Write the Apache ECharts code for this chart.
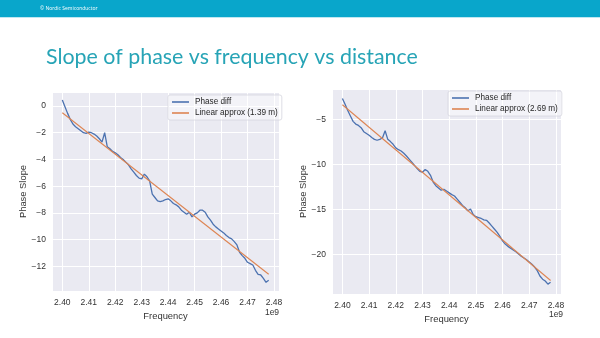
<!DOCTYPE html>
<html>
<head>
<meta charset="utf-8">
<script src="https://cdn.jsdelivr.net/npm/echarts@6/dist/echarts.min.js"></script>
<style>
  html, body { margin: 0; padding: 0; background: #ffffff; }
  #chart { width: 600px; height: 338px; }
</style>
</head>
<body>
<div id="chart"></div>
<script>
// Sample frequencies in MHz (axis shows them in units of 1e9 Hz)
const freqMHz = [
  2400, 2401, 2402, 2403, 2404, 2405, 2406, 2407, 2408, 2409,
  2410, 2411, 2412, 2413, 2414, 2415, 2416, 2417, 2418, 2419,
  2420, 2421, 2422, 2423, 2424, 2425, 2426, 2427, 2428, 2429,
  2430, 2431, 2432, 2433, 2434, 2435, 2436, 2437, 2438, 2439,
  2440, 2441, 2442, 2443, 2444, 2445, 2446, 2447, 2448, 2449,
  2450, 2451, 2452, 2453, 2454, 2455, 2456, 2457, 2458, 2459,
  2460, 2461, 2462, 2463, 2464, 2465, 2466, 2467, 2468, 2469,
  2470, 2471, 2472, 2473, 2474, 2475, 2476, 2477, 2478
];

// Measured phase slope, 1.39 m
const phaseDiffNear = [
  0.45, -0.05, -0.55, -1.0, -1.35, -1.55, -1.7, -1.85, -2.0, -2.05,
  -1.95, -2.0, -2.1, -2.25, -2.45, -2.7, -2.0, -3.05, -3.2, -3.4,
  -3.5, -3.65, -3.85, -4.0, -4.2, -4.4, -4.7, -4.95, -5.2, -5.4,
  -5.45, -5.1, -5.3, -5.6, -6.6, -6.85, -7.1, -7.15, -7.1, -7.0,
  -6.95, -7.1, -7.3, -7.4, -7.55, -7.8, -7.95, -8.1, -7.95, -8.3,
  -8.1, -8.0, -7.8, -7.8, -7.95, -8.3, -8.55, -8.85, -9.05, -9.2,
  -9.35, -9.5, -9.7, -9.85, -9.95, -10.15, -10.4, -10.95, -11.2, -11.4,
  -11.7, -11.8, -11.9, -12.3, -12.6, -12.65, -12.9, -13.2, -13.05
];

// Measured phase slope, 2.69 m
const phaseDiffFar = [
  -2.65, -3.3, -4.0, -4.6, -5.2, -5.5, -5.65, -5.9, -6.35, -6.55,
  -6.75, -7.0, -7.2, -7.3, -7.2, -7.05, -6.25, -7.2, -7.45, -7.75,
  -8.15, -8.35, -8.5, -8.75, -9.05, -9.4, -9.75, -10.1, -10.45, -10.75,
  -10.85, -10.55, -10.75, -11.2, -11.95, -12.35, -12.6, -12.85, -12.75, -12.95,
  -13.15, -13.35, -13.5, -13.85, -14.2, -14.55, -14.8, -15.15, -14.95, -15.55,
  -15.8, -15.9, -16.0, -16.15, -16.2, -16.5, -16.85, -17.2, -17.55, -18.0,
  -18.5, -18.85, -19.1, -19.3, -19.5, -19.7, -19.95, -20.2, -20.4, -20.6,
  -20.85, -21.1, -21.4, -21.8, -22.4, -22.75, -22.95, -23.3, -23.1
];

// Fitted straight lines (end points)
const linearFreqMHz = [2400, 2478];
const linearNear = [-0.5, -12.6];
const linearFar = [-3.35, -22.9];

const nameNear = 'Linear approx (1.39 m)';
const nameFar = 'Linear approx (2.69 m)';

const toPairs = (xs, ys) => xs.map((x, i) => [x / 1000, ys[i]]);

const FONT = 'Liberation Sans, Arial, sans-serif';
const TICK_COLOR = '#333333';
const BLUE = '#4c72b0';
const ORANGE = '#dd8452';

const minusFmt = v => {
  const r = Math.round(v * 100) / 100;
  return (r < 0 ? '\u2212' : '') + Math.abs(r);
};

function xAxisFor(gridIndex) {
  return {
    type: 'value', gridIndex,
    min: 2.3961, max: 2.4819, splitNumber: 8,
    name: 'Frequency', nameLocation: 'middle', nameGap: 17,
    nameTextStyle: { color: TICK_COLOR, fontSize: 9.4, fontFamily: FONT },
    axisLine: { show: false }, axisTick: { show: false },
    axisLabel: {
      color: TICK_COLOR, fontSize: 8.5, fontFamily: FONT, margin: 7,
      showMinLabel: false, showMaxLabel: false,
      formatter: v => v.toFixed(2)
    },
    splitLine: { show: true, lineStyle: { color: '#ffffff', width: 1 } }
  };
}

function yAxisFor(gridIndex, min, max, splitNumber, gap) {
  return {
    type: 'value', gridIndex, min, max, splitNumber,
    name: 'Phase Slope', nameLocation: 'middle', nameGap: gap, nameRotate: 90,
    nameTextStyle: { color: TICK_COLOR, fontSize: 9.4, fontFamily: FONT },
    axisLine: { show: false }, axisTick: { show: false },
    axisLabel: {
      color: TICK_COLOR, fontSize: 8.5, fontFamily: FONT, margin: 6,
      showMinLabel: false, showMaxLabel: false,
      formatter: minusFmt
    },
    splitLine: { show: true, lineStyle: { color: '#ffffff', width: 1 } }
  };
}

function legendFor(names, left, top) {
  return {
    data: names, left, top, orient: 'vertical',
    itemGap: 3, itemWidth: 17, itemHeight: 1.6, icon: 'rect',
    padding: [3, 4, 3, 4],
    backgroundColor: 'rgba(255,255,255,0.45)',
    borderColor: '#d6d6de', borderWidth: 0.8, borderRadius: 2,
    textStyle: { color: '#262626', fontSize: 8.2, fontFamily: FONT, padding: [0, 0, 0, 1] },
    selectedMode: false
  };
}

function lineSeries(name, idx, data, color, width) {
  return {
    type: 'line', name, xAxisIndex: idx, yAxisIndex: idx,
    data, showSymbol: false, symbol: 'none', color,
    lineStyle: { color, width }, animation: false
  };
}

const chart = echarts.init(document.getElementById('chart'), null, { renderer: 'canvas' });

chart.setOption({
  animation: false,
  backgroundColor: '#ffffff',
  grid: [
    { left: 52, top: 92, width: 227, height: 199, show: true, backgroundColor: '#eaeaf2', borderWidth: 0 },
    { left: 332, top: 89, width: 229, height: 205, show: true, backgroundColor: '#eaeaf2', borderWidth: 0 }
  ],
  xAxis: [xAxisFor(0), xAxisFor(1)],
  yAxis: [
    yAxisFor(0, -13.85, 1.05, 7, 19),
    yAxisFor(1, -24.4, -1.6, 5, 24)
  ],
  legend: [
    legendFor(['Phase diff', nameNear], 168, 95),
    legendFor(['Phase diff', nameFar], 448, 91)
  ],
  series: [
    lineSeries('Phase diff', 0, toPairs(freqMHz, phaseDiffNear), BLUE, 1.3),
    lineSeries(nameNear, 0, toPairs(linearFreqMHz, linearNear), ORANGE, 1.1),
    lineSeries('Phase diff', 1, toPairs(freqMHz, phaseDiffFar), BLUE, 1.3),
    lineSeries(nameFar, 1, toPairs(linearFreqMHz, linearFar), ORANGE, 1.1)
  ],
  graphic: [
    { type: 'rect', left: 0, top: 0, shape: { width: 600, height: 17 }, style: { fill: '#09a6cb' }, silent: true },
    { type: 'rect', left: 0, top: 17, shape: { width: 600, height: 1 }, style: { fill: '#bfe7f1' }, silent: true },
    { type: 'text', x: 40, y: 9, silent: true,
      style: { text: '\u00a9 Nordic Semiconductor', fill: '#ffffff', fontSize: 5, fontFamily: 'Open Sans, sans-serif', verticalAlign: 'middle' } },
    { type: 'text', x: 46, y: 57, silent: true,
      style: { text: 'Slope of phase vs frequency vs distance', fill: '#27a4b6', fontSize: 21.4, fontFamily: 'Lato, sans-serif', verticalAlign: 'middle' } },
    { type: 'text', x: 272, y: 313, silent: true,
      style: { text: '1e9', fill: TICK_COLOR, fontSize: 8.5, fontFamily: FONT, align: 'center', verticalAlign: 'middle' } },
    { type: 'text', x: 556, y: 315, silent: true,
      style: { text: '1e9', fill: TICK_COLOR, fontSize: 8.5, fontFamily: FONT, align: 'center', verticalAlign: 'middle' } }
  ]
});
</script>
</body>
</html>
